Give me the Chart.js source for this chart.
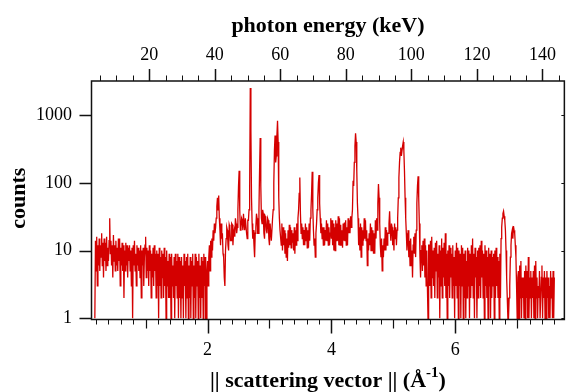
<!DOCTYPE html>
<html>
<head>
<meta charset="utf-8">
<script src="https://cdn.jsdelivr.net/npm/chart.js@4.4.1/dist/chart.umd.min.js"></script>
<style>
  html, body { margin: 0; padding: 0; background: #fff; }
  #wrap { width: 571px; height: 392px; }
</style>
</head>
<body>
<div id="wrap"><canvas id="spectrum" width="571" height="392"></canvas></div>
<script>
// scattering vector grid: first point and spacing (1/Angstrom)
const qStart = 0.18;
const qStep = 0.01;

// counts, one row = 20 points (0.2 in q)
const countsLowQ = [
  1, 14, 5, 16, 3, 12, 6, 15, 5, 12, 8, 18, 6, 13, 4, 15, 7, 13, 5, 16,
  6, 11, 7, 14, 30, 9, 14, 6, 12, 4, 17, 7, 12, 5, 14, 6, 11, 5, 15, 7,
  15, 3, 11, 6, 13, 5, 12, 2, 10, 5, 13, 6, 12, 4, 11, 7, 12, 5, 10, 3,
  11, 1, 12, 6, 14, 5, 9, 3, 12, 6, 11, 5, 10, 4, 12, 2, 10, 6, 11, 3,
  8, 12, 16, 4, 11, 5, 10, 3, 12, 5, 10, 2, 9, 4, 11, 3, 12, 5, 9, 2,
  10, 3, 9, 1, 11, 3, 8, 2, 10, 4, 9, 2, 11, 3, 8, 1, 10, 3, 7, 2,
  9, 2, 8, 1, 9, 3, 6, 2, 8, 1, 9, 3, 7, 2, 9, 1, 8, 2, 7, 1,
  8, 2, 6, 1, 9, 3, 7, 1, 8, 2, 9, 1, 6, 2, 8, 1, 7, 3, 9, 1,
  6, 2, 9, 1, 8, 3, 7, 1, 9, 2, 6, 1, 8, 2, 7, 1, 9, 3, 8, 1,
  1, 5, 7, 3, 8, 12, 5, 14, 8, 15, 10, 20, 14, 25, 18, 22, 30, 45, 60, 40,
  65, 30, 20, 12, 25, 15, 18, 9, 8, 4, 3, 10, 15, 22, 20, 12, 10, 24, 22, 14,
  14, 25, 24, 12, 18, 20, 16, 30, 25, 18, 22, 40, 90, 150, 40, 20, 22, 30, 28, 20,
];
const countsMidQ = [
  35, 25, 20, 30, 30, 18, 15, 28, 28, 40, 80, 2500, 600, 60, 25, 15, 20, 12, 8, 18,
  22, 35, 30, 18, 18, 40, 150, 460, 90, 30, 25, 40, 35, 18, 15, 32, 30, 20, 18, 30,
  28, 15, 12, 25, 25, 14, 14, 30, 40, 100, 300, 500, 200, 250, 500, 820, 400, 60, 30, 20,
  20, 12, 25, 10, 22, 12, 20, 9, 18, 8, 15, 7, 20, 11, 24, 12, 22, 11, 20, 13,
  18, 10, 22, 9, 20, 12, 25, 14, 30, 40, 70, 120, 35, 18, 25, 15, 22, 12, 20, 12,
  25, 14, 22, 11, 20, 11, 25, 14, 30, 40, 70, 145, 40, 20, 12, 15, 8, 18, 25, 40,
  60, 100, 130, 50, 30, 18, 25, 15, 22, 12, 22, 12, 20, 14, 28, 14, 25, 12, 22, 12,
  18, 30, 15, 28, 12, 25, 10, 22, 10, 28, 14, 25, 14, 32, 12, 30, 12, 24, 12, 20,
  11, 25, 14, 26, 14, 28, 12, 22, 12, 30, 18, 28, 18, 32, 22, 30, 40, 107, 90, 200,
  350, 540, 400, 150, 50, 30, 12, 22, 10, 25, 8, 22, 12, 20, 14, 30, 15, 28, 14, 20,
  6, 15, 10, 18, 12, 25, 10, 22, 10, 20, 9, 18, 9, 28, 15, 30, 20, 50, 96, 60,
  25, 12, 8, 15, 5, 12, 8, 15, 10, 22, 10, 20, 12, 18, 18, 25, 38, 20, 14, 25,
];
const countsHighQ = [
  22, 12, 20, 10, 25, 15, 22, 12, 20, 30, 60, 120, 200, 280, 330, 250, 250, 350, 400, 300,
  150, 60, 30, 18, 10, 15, 20, 8, 14, 6, 15, 6, 10, 4, 12, 16, 9, 18, 8, 20,
  50, 90, 125, 60, 25, 8, 4, 10, 12, 5, 14, 6, 15, 4, 12, 3, 10, 3, 1, 12,
  12, 3, 14, 2, 16, 4, 10, 3, 11, 2, 13, 5, 14, 2, 9, 4, 12, 1, 10, 3,
  15, 2, 11, 4, 13, 3, 18, 2, 9, 1, 10, 3, 12, 2, 11, 4, 9, 2, 12, 3,
  8, 1, 10, 3, 13, 2, 11, 1, 10, 3, 9, 1, 12, 3, 11, 1, 9, 2, 10, 1,
  7, 2, 11, 3, 10, 1, 9, 2, 12, 3, 15, 2, 9, 1, 11, 4, 8, 1, 10, 2,
  11, 3, 12, 2, 14, 4, 10, 2, 9, 1, 12, 3, 10, 2, 8, 1, 11, 3, 9, 1,
  10, 2, 8, 3, 9, 1, 10, 2, 11, 3, 8, 2, 7, 1, 9, 2, 15, 22, 30, 35,
  38, 32, 28, 20, 10, 4, 2, 1, 1, 2, 3, 8, 12, 18, 20, 15, 23, 20, 18, 12,
  8, 3, 1, 4, 5, 1, 6, 2, 7, 1, 4, 2, 4, 1, 5, 1, 6, 2, 5, 1,
  8, 1, 4, 2, 5, 1, 4, 2, 5, 1, 6, 1, 7, 2, 4, 1, 3, 2, 5, 1,
  1, 4, 6, 1, 4, 2, 5, 1, 4, 1, 5, 2, 4, 1, 3, 1, 5, 2, 4, 1,
  5, 1, 4,
];

// axis ranges and ticks
const qMin = 0.126, qMax = 7.762;
const keVPerQ = 18.9;
const countMin = 0.96, countMax = 3180;
const qMajorTicks = [2, 4, 6];
const qMidTicks = [1, 3, 5, 7];
const energyMajorTicks = [20, 40, 60, 80, 100, 120, 140];
const countTicks = [1, 10, 100, 1000];

const RED = "#d40000";
const INK = "#111";
const SERIF = "'Liberation Serif', 'Times New Roman', serif";

const counts = countsLowQ.concat(countsMidQ, countsHighQ);
const points = counts.map((c, i) => ({ x: +(qStart + qStep * i).toFixed(2), y: c }));

const qMinorTicks = [];
for (let k = 1; k * 0.2 < qMax; k += 1) {
  if (k % 5 !== 0) qMinorTicks.push(+(k * 0.2).toFixed(1));
}
const energyMinorTicks = [];
for (let e = 5; e < qMax * keVPerQ; e += 5) {
  if (e % 20 !== 0) energyMinorTicks.push(e);
}

const tickFont = { family: SERIF, size: 18 };

const frameAndTicks = {
  id: "frameAndTicks",
  afterDraw(chart) {
    const { ctx, chartArea: a } = chart;
    const xs = chart.scales.x;
    const ts = chart.scales.x2;
    const ys = chart.scales.y;
    const px = (s, v) => Math.round(s.getPixelForValue(v)) + 0.5;

    ctx.save();
    ctx.strokeStyle = INK;

    // tick marks
    const marks = (list, width, fn) => {
      ctx.lineWidth = width;
      ctx.beginPath();
      list.forEach(fn);
      ctx.stroke();
    };
    const down = (len) => (v) => { const p = px(xs, v); ctx.moveTo(p, a.bottom); ctx.lineTo(p, a.bottom + len); };
    const up = (len) => (v) => { const p = px(ts, v); ctx.moveTo(p, a.top); ctx.lineTo(p, a.top - len); };
    marks(qMinorTicks, 1, down(5));
    marks(qMidTicks, 1.2, down(9));
    marks(qMajorTicks, 1.5, down(14));
    marks(energyMinorTicks, 1, up(5.5));
    marks(energyMajorTicks, 1.5, up(12));
    marks(countTicks, 1.5, (v) => { const p = px(ys, v); ctx.moveTo(a.left, p); ctx.lineTo(a.left - 12, p); });
    marks(countTicks, 1, (v) => { const p = px(ys, v); ctx.moveTo(a.right, p); ctx.lineTo(a.right - 3, p); });

    // frame
    ctx.lineWidth = 1.5;
    ctx.strokeRect(a.left, a.top, a.right - a.left, a.bottom - a.top);

    // titles
    const cx = (a.left + a.right) / 2;
    const titleFont = `bold 22px ${SERIF}`;
    ctx.fillStyle = "#000";
    ctx.textBaseline = "alphabetic";
    ctx.textAlign = "center";
    ctx.font = titleFont;
    ctx.fillText("photon energy (keV)", cx, 32);

    const head = "|| scattering vector || (Å";
    const sup = "-1";
    const tail = ")";
    const supFont = `bold 15px ${SERIF}`;
    const w1 = ctx.measureText(head).width;
    const w3 = ctx.measureText(tail).width;
    ctx.font = supFont;
    const w2 = ctx.measureText(sup).width;
    const x0 = cx - (w1 + w2 + w3) / 2;
    const base = 387;
    ctx.textAlign = "left";
    ctx.font = titleFont;
    ctx.fillText(head, x0, base);
    ctx.font = supFont;
    ctx.fillText(sup, x0 + w1, base - 10);
    ctx.font = titleFont;
    ctx.fillText(tail, x0 + w1 + w2, base);

    ctx.translate(19, (a.top + a.bottom) / 2 - 2);
    ctx.rotate(-Math.PI / 2);
    ctx.textAlign = "center";
    ctx.textBaseline = "middle";
    ctx.fillText("counts", 0, 0);
    ctx.restore();
  },
};

new Chart(document.getElementById("spectrum"), {
  type: "line",
  data: {
    datasets: [{
      data: points,
      borderColor: RED,
      borderWidth: 1.3,
      pointRadius: 0,
      tension: 0,
      fill: false,
    }],
  },
  options: {
    responsive: false,
    animation: false,
    devicePixelRatio: 1,
    layout: { padding: { right: 2, left: 0, top: 0, bottom: 0 } },
    plugins: { legend: { display: false }, tooltip: { enabled: false } },
    scales: {
      x: {
        type: "linear",
        position: "bottom",
        min: qMin,
        max: qMax,
        grid: { display: false, drawTicks: false },
        border: { display: false },
        ticks: { font: tickFont, color: "#000", padding: 20, maxRotation: 0, callback: (v) => String(v) },
        afterBuildTicks: (s) => { s.ticks = qMajorTicks.map((v) => ({ value: v })); },
        afterFit: (s) => { s.height = 72.5; },
      },
      x2: {
        type: "linear",
        position: "top",
        min: qMin * keVPerQ,
        max: qMax * keVPerQ,
        grid: { display: false, drawTicks: false },
        border: { display: false },
        ticks: { font: tickFont, color: "#000", padding: 15, maxRotation: 0, callback: (v) => String(v) },
        afterBuildTicks: (s) => { s.ticks = energyMajorTicks.map((v) => ({ value: v })); },
        afterFit: (s) => { s.height = 81; },
      },
      y: {
        type: "logarithmic",
        position: "left",
        min: countMin,
        max: countMax,
        grid: { display: false, drawTicks: false },
        border: { display: false },
        ticks: { font: tickFont, color: "#000", padding: 19.5, callback: (v) => String(v) },
        afterBuildTicks: (s) => { s.ticks = countTicks.map((v) => ({ value: v })); },
        afterFit: (s) => { s.width = 91.5; },
      },
    },
  },
  plugins: [frameAndTicks],
});
</script>
</body>
</html>
